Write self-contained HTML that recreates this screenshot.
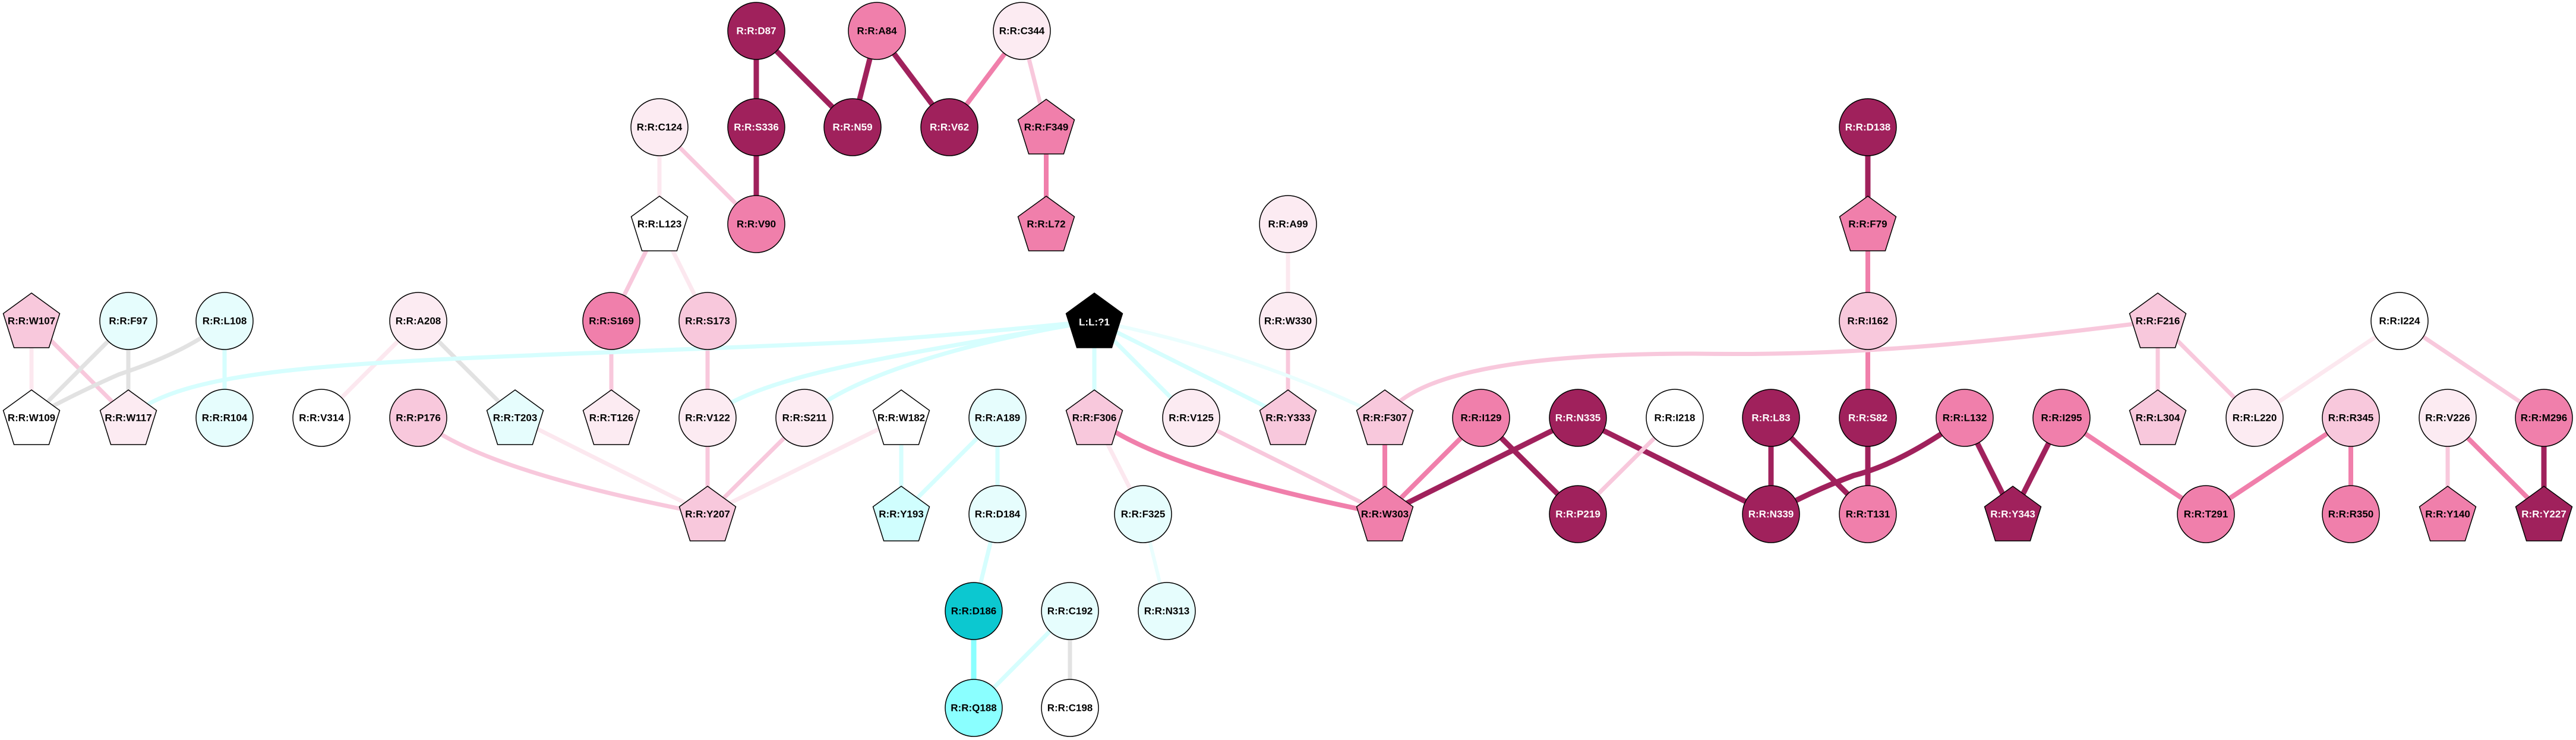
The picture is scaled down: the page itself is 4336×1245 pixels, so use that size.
<!DOCTYPE html>
<html><head><meta charset="utf-8"><style>
html,body{margin:0;padding:0;background:#fff}
svg{display:block}
text{font-family:"Liberation Sans",Arial,sans-serif;font-weight:bold;font-size:17px;text-anchor:middle;dominant-baseline:central}
</style></head><body>
<svg width="4336" height="1245" viewBox="0 0 4336 1245" xmlns="http://www.w3.org/2000/svg">
<g fill="none" stroke-linecap="butt">
<g stroke="#A0215C" stroke-width="9">
<line x1="1273" y1="52" x2="1273" y2="214"/>
<line x1="1273" y1="52" x2="1435" y2="214"/>
<line x1="1476" y1="52" x2="1435" y2="214"/>
<line x1="1476" y1="52" x2="1598" y2="214"/>
<line x1="1273" y1="214" x2="1273" y2="377"/>
<line x1="2656" y1="703" x2="2331" y2="865"/>
<line x1="2493" y1="703" x2="2656" y2="865"/>
<line x1="2656" y1="703" x2="2981" y2="865"/>
<line x1="3144" y1="214" x2="3144" y2="377"/>
<line x1="3144" y1="703" x2="3144" y2="865"/>
<line x1="2981" y1="703" x2="2981" y2="865"/>
<line x1="2981" y1="703" x2="3144" y2="865"/>
<path d="M3307,703 Q3200,780 3120,800 Q3040,830 2981,865"/>
<line x1="3307" y1="703" x2="3388" y2="865"/>
<line x1="3470" y1="703" x2="3388" y2="865"/>
<line x1="4282" y1="703" x2="4282" y2="865"/>
</g>
<g stroke="#F07FAB" stroke-width="8">
<line x1="1720" y1="52" x2="1598" y2="214"/>
<line x1="1761" y1="214" x2="1761" y2="377"/>
<path d="M1842,703 Q1950,790 2331,865"/>
<line x1="2331" y1="703" x2="2331" y2="865"/>
<line x1="2493" y1="703" x2="2331" y2="865"/>
<line x1="3144" y1="377" x2="3144" y2="540"/>
<line x1="3144" y1="540" x2="3144" y2="703"/>
<line x1="3470" y1="703" x2="3713" y2="865"/>
<line x1="3957" y1="703" x2="3713" y2="865"/>
<line x1="3957" y1="703" x2="3957" y2="865"/>
<line x1="4120" y1="703" x2="4282" y2="865"/>
</g>
<g stroke="#F8C8DC" stroke-width="7">
<line x1="1720" y1="52" x2="1761" y2="214"/>
<line x1="1110" y1="214" x2="1273" y2="377"/>
<line x1="1110" y1="377" x2="1029" y2="540"/>
<line x1="1029" y1="540" x2="1029" y2="703"/>
<line x1="1191" y1="540" x2="1191" y2="703"/>
<line x1="1191" y1="703" x2="1191" y2="865"/>
<line x1="1354" y1="703" x2="1191" y2="865"/>
<path d="M704,703 Q800,790 1191,865"/>
<line x1="53" y1="540" x2="216" y2="703"/>
<line x1="2168" y1="540" x2="2168" y2="703"/>
<line x1="2005" y1="703" x2="2331" y2="865"/>
<line x1="2819" y1="703" x2="2656" y2="865"/>
<path d="M2331,703 C2380,620 2600,595 2850,595 C3100,599 3300,582 3632,540"/>
<line x1="3632" y1="540" x2="3632" y2="703"/>
<line x1="3632" y1="540" x2="3795" y2="703"/>
<line x1="4039" y1="540" x2="4282" y2="703"/>
<line x1="4120" y1="703" x2="4120" y2="865"/>
</g>
<g stroke="#FCE8EF" stroke-width="7">
<line x1="1110" y1="214" x2="1110" y2="377"/>
<line x1="1110" y1="377" x2="1191" y2="540"/>
<line x1="867" y1="703" x2="1191" y2="865"/>
<line x1="1517" y1="703" x2="1191" y2="865"/>
<line x1="704" y1="540" x2="541" y2="703"/>
<line x1="53" y1="540" x2="53" y2="703"/>
<line x1="2168" y1="377" x2="2168" y2="540"/>
<line x1="1842" y1="703" x2="1924" y2="865"/>
<line x1="4039" y1="540" x2="3795" y2="703"/>
</g>
<g stroke="#E2E2E2" stroke-width="7">
<line x1="704" y1="540" x2="867" y2="703"/>
<line x1="216" y1="540" x2="53" y2="703"/>
<line x1="216" y1="540" x2="216" y2="703"/>
<path d="M378,540 Q320,590 200,630 Q120,665 53,703"/>
<line x1="1801" y1="1028" x2="1801" y2="1191"/>
</g>
<g stroke="#D6FEFE" stroke-width="7">
<line x1="378" y1="540" x2="378" y2="703"/>
<path d="M216,703 C330,600 700,610 1450,575 Q1650,560 1842,540"/>
<path d="M1191,703 C1280,630 1500,600 1842,540"/>
<path d="M1354,703 C1420,640 1600,580 1842,540"/>
<line x1="1842" y1="540" x2="1842" y2="703"/>
<line x1="1842" y1="540" x2="2005" y2="703"/>
<line x1="1842" y1="540" x2="2168" y2="703"/>
<line x1="1517" y1="703" x2="1517" y2="865"/>
<line x1="1679" y1="703" x2="1517" y2="865"/>
<line x1="1679" y1="703" x2="1679" y2="865"/>
<line x1="1679" y1="865" x2="1639" y2="1028"/>
<line x1="1801" y1="1028" x2="1639" y2="1191"/>
</g>
<g stroke="#EAFEFE" stroke-width="6">
<path d="M1842,540 Q2100,590 2331,703"/>
<line x1="1924" y1="865" x2="1964" y2="1028"/>
</g>
<line x1="1639" y1="1028" x2="1639" y2="1191" stroke="#8AFFFF" stroke-width="9"/>
</g>

<defs>
<ellipse id="c" cx="0" cy="0" rx="48" ry="48"/>
<polygon id="p" points="0,-47 47.5,-12.5 29.4,45 -29.4,45 -47.5,-12.5"/>
</defs>
<g stroke="#000" stroke-width="1.5">
<g>
<use href="#c" x="1273" y="52" fill="#A0215C"/>
<use href="#c" x="1476" y="52" fill="#F07FAB"/>
<use href="#c" x="1720" y="52" fill="#FCEBF2"/>
<use href="#c" x="1110" y="214" fill="#FCEBF2"/>
<use href="#c" x="1273" y="214" fill="#A0215C"/>
<use href="#c" x="1435" y="214" fill="#A0215C"/>
<use href="#c" x="1598" y="214" fill="#A0215C"/>
<use href="#c" x="3144" y="214" fill="#A0215C"/>
<use href="#c" x="1273" y="377" fill="#F07FAB"/>
<use href="#c" x="2168" y="377" fill="#FCEBF2"/>
<use href="#c" x="216" y="540" fill="#E6FDFD"/>
<use href="#c" x="378" y="540" fill="#E6FDFD"/>
<use href="#c" x="704" y="540" fill="#FCEBF2"/>
<use href="#c" x="1029" y="540" fill="#F07FAB"/>
<use href="#c" x="1191" y="540" fill="#F8C8DC"/>
<use href="#c" x="2168" y="540" fill="#FCEBF2"/>
<use href="#c" x="3144" y="540" fill="#F8C8DC"/>
<use href="#c" x="4039" y="540" fill="#FFFFFF"/>
<use href="#c" x="378" y="703" fill="#E6FDFD"/>
<use href="#c" x="541" y="703" fill="#FFFFFF"/>
<use href="#c" x="704" y="703" fill="#F8C8DC"/>
<use href="#c" x="1191" y="703" fill="#FCEBF2"/>
<use href="#c" x="1354" y="703" fill="#FCEBF2"/>
<use href="#c" x="1679" y="703" fill="#E6FDFD"/>
<use href="#c" x="2005" y="703" fill="#FCEBF2"/>
<use href="#c" x="2493" y="703" fill="#F07FAB"/>
<use href="#c" x="2656" y="703" fill="#A0215C"/>
<use href="#c" x="2819" y="703" fill="#FFFFFF"/>
<use href="#c" x="2981" y="703" fill="#A0215C"/>
<use href="#c" x="3144" y="703" fill="#A0215C"/>
<use href="#c" x="3307" y="703" fill="#F07FAB"/>
<use href="#c" x="3470" y="703" fill="#F07FAB"/>
<use href="#c" x="3795" y="703" fill="#FCEBF2"/>
<use href="#c" x="3957" y="703" fill="#F8C8DC"/>
<use href="#c" x="4120" y="703" fill="#FCEBF2"/>
<use href="#c" x="4282" y="703" fill="#F07FAB"/>
<use href="#c" x="1679" y="865" fill="#E6FDFD"/>
<use href="#c" x="1924" y="865" fill="#E6FDFD"/>
<use href="#c" x="2656" y="865" fill="#A0215C"/>
<use href="#c" x="2981" y="865" fill="#A0215C"/>
<use href="#c" x="3144" y="865" fill="#F07FAB"/>
<use href="#c" x="3713" y="865" fill="#F07FAB"/>
<use href="#c" x="3957" y="865" fill="#F07FAB"/>
<use href="#c" x="1639" y="1028" fill="#0CC8D0"/>
<use href="#c" x="1801" y="1028" fill="#E6FDFD"/>
<use href="#c" x="1964" y="1028" fill="#E6FDFD"/>
<use href="#c" x="1639" y="1191" fill="#8AFFFF"/>
<use href="#c" x="1801" y="1191" fill="#FFFFFF"/>
</g>
<g>
<use href="#p" x="1761" y="214" fill="#F07FAB"/>
<use href="#p" x="3144" y="377" fill="#F07FAB"/>
<use href="#p" x="1110" y="377" fill="#FFFFFF"/>
<use href="#p" x="1761" y="377" fill="#F07FAB"/>
<use href="#p" x="53" y="540" fill="#F8C8DC"/>
<use href="#p" x="1842" y="540" fill="#000000"/>
<use href="#p" x="3632" y="540" fill="#F8C8DC"/>
<use href="#p" x="53" y="703" fill="#FFFFFF"/>
<use href="#p" x="216" y="703" fill="#FCEBF2"/>
<use href="#p" x="867" y="703" fill="#E6FDFD"/>
<use href="#p" x="1029" y="703" fill="#FCEBF2"/>
<use href="#p" x="1517" y="703" fill="#FFFFFF"/>
<use href="#p" x="1842" y="703" fill="#F8C8DC"/>
<use href="#p" x="2168" y="703" fill="#F8C8DC"/>
<use href="#p" x="2331" y="703" fill="#F8C8DC"/>
<use href="#p" x="3632" y="703" fill="#F8C8DC"/>
<use href="#p" x="1191" y="865" fill="#F8C8DC"/>
<use href="#p" x="1517" y="865" fill="#D0FEFE"/>
<use href="#p" x="2331" y="865" fill="#F07FAB"/>
<use href="#p" x="3388" y="865" fill="#A0215C"/>
<use href="#p" x="4120" y="865" fill="#F07FAB"/>
<use href="#p" x="4282" y="865" fill="#A0215C"/>
</g>
</g>
<g fill="#000">
<text x="1720" y="52">R:R:C344</text>
<text x="1110" y="214">R:R:C124</text>
<text x="1761" y="214">R:R:F349</text>
<text x="1110" y="377">R:R:L123</text>
<text x="1273" y="377">R:R:V90</text>
<text x="1476" y="52">R:R:A84</text>
<text x="1761" y="377">R:R:L72</text>
<text x="3144" y="377">R:R:F79</text>
<text x="2168" y="377">R:R:A99</text>
<text x="53" y="540">R:R:W107</text>
<text x="216" y="540">R:R:F97</text>
<text x="378" y="540">R:R:L108</text>
<text x="704" y="540">R:R:A208</text>
<text x="1029" y="540">R:R:S169</text>
<text x="1191" y="540">R:R:S173</text>
<text x="2168" y="540">R:R:W330</text>
<text x="3144" y="540">R:R:I162</text>
<text x="3632" y="540">R:R:F216</text>
<text x="4039" y="540">R:R:I224</text>
<text x="53" y="703">R:R:W109</text>
<text x="216" y="703">R:R:W117</text>
<text x="378" y="703">R:R:R104</text>
<text x="541" y="703">R:R:V314</text>
<text x="704" y="703">R:R:P176</text>
<text x="867" y="703">R:R:T203</text>
<text x="1029" y="703">R:R:T126</text>
<text x="1191" y="703">R:R:V122</text>
<text x="1354" y="703">R:R:S211</text>
<text x="1517" y="703">R:R:W182</text>
<text x="1679" y="703">R:R:A189</text>
<text x="1842" y="703">R:R:F306</text>
<text x="2005" y="703">R:R:V125</text>
<text x="2168" y="703">R:R:Y333</text>
<text x="2331" y="703">R:R:F307</text>
<text x="2493" y="703">R:R:I129</text>
<text x="2819" y="703">R:R:I218</text>
<text x="3307" y="703">R:R:L132</text>
<text x="3470" y="703">R:R:I295</text>
<text x="3632" y="703">R:R:L304</text>
<text x="3795" y="703">R:R:L220</text>
<text x="3957" y="703">R:R:R345</text>
<text x="4120" y="703">R:R:V226</text>
<text x="4282" y="703">R:R:M296</text>
<text x="1191" y="865">R:R:Y207</text>
<text x="1517" y="865">R:R:Y193</text>
<text x="1679" y="865">R:R:D184</text>
<text x="1924" y="865">R:R:F325</text>
<text x="2331" y="865">R:R:W303</text>
<text x="3144" y="865">R:R:T131</text>
<text x="3713" y="865">R:R:T291</text>
<text x="3957" y="865">R:R:R350</text>
<text x="4120" y="865">R:R:Y140</text>
<text x="1639" y="1028">R:R:D186</text>
<text x="1801" y="1028">R:R:C192</text>
<text x="1964" y="1028">R:R:N313</text>
<text x="1639" y="1191">R:R:Q188</text>
<text x="1801" y="1191">R:R:C198</text>
</g>
<g fill="#fff">
<text x="1273" y="52">R:R:D87</text>
<text x="1273" y="214">R:R:S336</text>
<text x="1435" y="214">R:R:N59</text>
<text x="1598" y="214">R:R:V62</text>
<text x="3144" y="214">R:R:D138</text>
<text x="1842" y="542">L:L:?1</text>
<text x="2656" y="703">R:R:N335</text>
<text x="2981" y="703">R:R:L83</text>
<text x="3144" y="703">R:R:S82</text>
<text x="2656" y="865">R:R:P219</text>
<text x="2981" y="865">R:R:N339</text>
<text x="3388" y="865">R:R:Y343</text>
<text x="4282" y="865">R:R:Y227</text>
</g>
</svg>
</body></html>
